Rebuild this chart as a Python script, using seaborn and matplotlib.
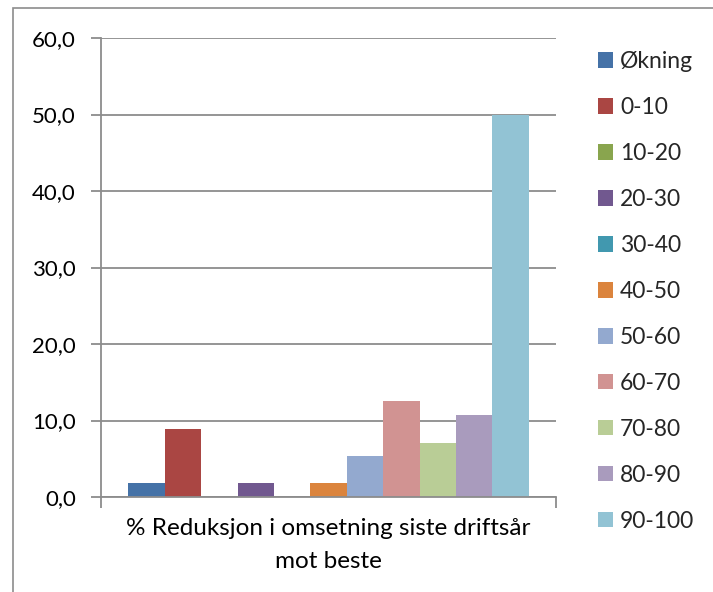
import matplotlib
matplotlib.use("Agg")
import matplotlib.pyplot as plt
import matplotlib.patches as mpatches
from matplotlib.ticker import FuncFormatter, FixedLocator
import seaborn as sns
import pandas as pd

# ---- data ----
category = "% Reduksjon i omsetning siste driftsår\nmot beste"
series = ["Økning", "0-10", "10-20", "20-30", "30-40", "40-50",
          "50-60", "60-70", "70-80", "80-90", "90-100"]
values = [1.8, 8.9, 0.0, 1.8, 0.0, 1.8, 5.4, 12.5, 7.1, 10.7, 50.0]
colors = ["#4572A7", "#AA4643", "#89A54E", "#71588F", "#4198AF", "#DB843D",
          "#93A9CF", "#D19392", "#B9CD96", "#A99BBD", "#92C3D4"]
yticks = [0, 10, 20, 30, 40, 50, 60]

df = pd.DataFrame({"cat": [category] * len(series), "serie": series, "val": values})

sns.set_theme(style="white")
plt.rcParams["font.family"] = ["Lato", "DejaVu Sans"]

W, H = 713, 592
fig = plt.figure(figsize=(W / 100, H / 100), dpi=100)
ax = fig.add_axes([101 / W, (H - 497) / H, 455 / W, 459 / H])

sns.barplot(data=df, x="cat", y="val", hue="serie", hue_order=series,
            palette=colors, width=0.88, gap=0, ax=ax, legend=True,
            saturation=1, edgecolor="none", linewidth=0)

ax.set_xlim(-0.5, 0.5)
ax.set_ylim(0, 60)
ax.set_yticks(yticks)
ax.yaxis.set_major_formatter(FuncFormatter(lambda v, p: f"{v:.1f}".replace(".", ",")))
ax.grid(axis="y", color="#8C8C8C", linewidth=1.3)
ax.set_axisbelow(True)
ax.set_xlabel("")
ax.set_ylabel("")

grey = "#8C8C8C"
for s in ["top", "right"]:
    ax.spines[s].set_visible(False)
for s in ["left", "bottom"]:
    ax.spines[s].set_color(grey)
    ax.spines[s].set_linewidth(1.3)

ax.tick_params(axis="y", which="major", length=7, width=1.3, color=grey,
               direction="out", left=True, pad=11, labelsize=16, labelcolor="black")
ax.tick_params(axis="x", which="major", length=0, pad=15, labelsize=17.5, labelcolor="black")
ax.xaxis.set_minor_locator(FixedLocator([-0.5, 0.5]))
ax.tick_params(axis="x", which="minor", length=8, width=1.3, color=grey,
               direction="out", bottom=True)
for lab in ax.get_xticklabels():
    lab.set_linespacing(1.7)

# legend
handles, labels = ax.get_legend_handles_labels()
ax.legend_.remove()
fig.legend(handles, labels, loc="upper left", bbox_to_anchor=(598 / W, 1 - 51 / H),
           frameon=False, fontsize=16.5, handlelength=0.655, handleheight=0.655,
           handletextpad=0.3, labelspacing=1.09, borderaxespad=0, borderpad=0)

# outer chart border
fig.patches.append(mpatches.Rectangle((13 / W, -0.1), 1.2, (H - 8) / H + 0.1,
                                      transform=fig.transFigure, fill=False,
                                      edgecolor="#8C8C8C", linewidth=1.2))

fig.savefig("out.png", dpi=100)
